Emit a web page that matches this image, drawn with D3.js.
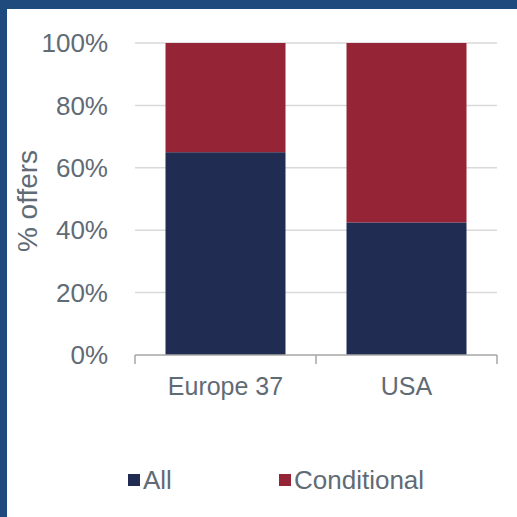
<!DOCTYPE html>
<html>
<head>
<meta charset="utf-8">
<script src="https://cdn.jsdelivr.net/npm/d3@7"></script>
<style>
  html, body { margin: 0; padding: 0; background: #fff; }
  svg { display: block; font-family: "Liberation Sans", Arial, sans-serif; }
</style>
</head>
<body>
<svg id="chart" width="517" height="517"></svg>
<script>
const categories = ["Europe 37", "USA"];
const seriesNames = ["All", "Conditional"];
const allValues = [0.65, 0.425];
const conditionalValues = [0.35, 0.575];
const yTicks = [0, 0.2, 0.4, 0.6, 0.8, 1.0];
const yTickLabels = ["0%", "20%", "40%", "60%", "80%", "100%"];
const yTitle = "% offers";
const colors = ["#202c52", "#952536"];

const svg = d3.select("#chart");
const W = 517, H = 517;

// frame (blue border top & left)
svg.append("rect").attr("x", 0).attr("y", 0).attr("width", W).attr("height", 9).attr("fill", "#1f4a7e");
svg.append("rect").attr("x", 0).attr("y", 0).attr("width", 7).attr("height", H).attr("fill", "#1f4a7e");

const x = d3.scaleBand().domain(categories).range([135, 497]).paddingInner(0.337).paddingOuter(0.1685);
const y = d3.scaleLinear().domain([0, 1]).range([355, 43]);

// gridlines
svg.append("g").selectAll("line").data(yTicks.filter(d => d > 0)).join("line")
  .attr("x1", 135).attr("x2", 497)
  .attr("y1", d => y(d)).attr("y2", d => y(d))
  .attr("stroke", "#d9d9d9").attr("stroke-width", 1.5);

// stacked data
const table = categories.map((c, i) => ({ cat: c, All: allValues[i], Conditional: conditionalValues[i] }));
const stack = d3.stack().keys(seriesNames)(table);

svg.append("g").selectAll("g").data(stack).join("g")
  .attr("fill", (d, i) => colors[i])
  .selectAll("rect").data(d => d).join("rect")
  .attr("x", d => x(d.data.cat))
  .attr("width", x.bandwidth())
  .attr("y", d => y(d[1]))
  .attr("height", d => y(d[0]) - y(d[1]));

// x axis
const xAxis = svg.append("g").attr("transform", "translate(0,355)");
xAxis.append("line").attr("x1", 135).attr("x2", 497).attr("y1", 0).attr("y2", 0)
  .attr("stroke", "#a6a6a6").attr("stroke-width", 1.5);
const boundaries = [135, 135 + x.step(), 497];
xAxis.selectAll("line.tk").data(boundaries).join("line").attr("class", "tk")
  .attr("x1", d => d).attr("x2", d => d).attr("y1", 0).attr("y2", 9)
  .attr("stroke", "#a6a6a6").attr("stroke-width", 1.5);
xAxis.selectAll("text").data(categories).join("text")
  .attr("x", d => x(d) + x.bandwidth() / 2)
  .attr("y", 40)
  .attr("text-anchor", "middle")
  .attr("font-size", 25)
  .attr("fill", "#5f6b75")
  .text(d => d);

// y axis labels
svg.append("g").selectAll("text").data(yTicks).join("text")
  .attr("x", 108)
  .attr("y", d => y(d))
  .attr("dy", "0.35em")
  .attr("text-anchor", "end")
  .attr("font-size", 26)
  .attr("fill", "#5f6b75")
  .text((d, i) => yTickLabels[i]);

// y title
svg.append("text")
  .attr("transform", "translate(37,201) rotate(-90)")
  .attr("text-anchor", "middle")
  .attr("font-size", 28)
  .attr("fill", "#5f6b75")
  .text(yTitle);

// legend
const legendX = [128, 279];
const lg = svg.append("g").selectAll("g").data(seriesNames).join("g")
  .attr("transform", (d, i) => `translate(${legendX[i]},480)`);
lg.append("rect").attr("x", 0).attr("y", -6).attr("width", 12).attr("height", 12)
  .attr("fill", (d, i) => colors[i]);
lg.append("text").attr("x", 15).attr("y", 0).attr("dy", "0.35em")
  .attr("font-size", 26).attr("fill", "#5f6b75").text(d => d);
</script>
</body>
</html>
